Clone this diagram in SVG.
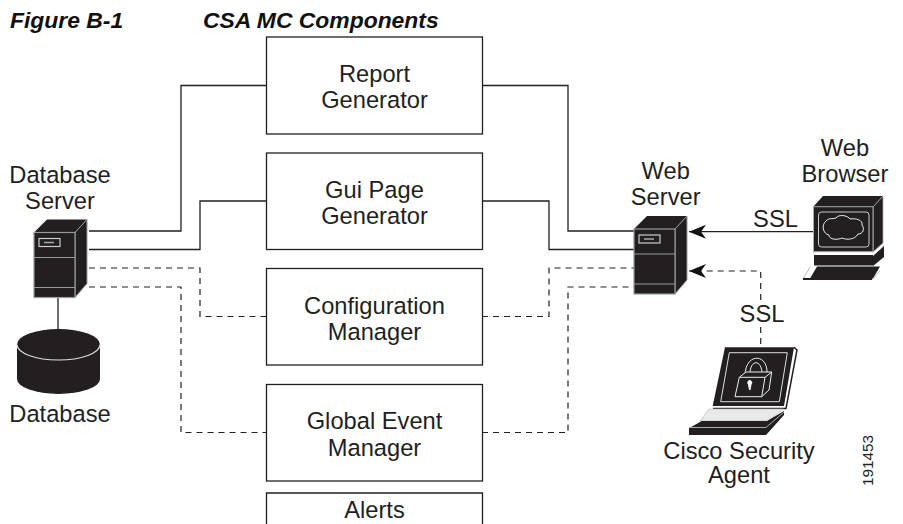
<svg xmlns="http://www.w3.org/2000/svg" width="903" height="524" viewBox="0 0 903 524">
<defs>
<marker id="arrow" markerUnits="userSpaceOnUse" markerWidth="20" markerHeight="18" refX="18" refY="9" orient="auto"><path d="M18 9L1 2L6 9L1 16Z" fill="#111"/></marker>
<g id="tower">
<path d="M0 13L13 0H53L41 13Z" fill="#231f20"/>
<path d="M41 13L53 0V64L41 78Z" fill="#231f20" stroke="#999" stroke-width="1"/>
<rect x="0" y="13" width="41" height="65" fill="#231f20" stroke="#999" stroke-width="1.2"/>
<path d="M0 38H41M0 68H41" stroke="#999" stroke-width="1.2" fill="none"/>
<rect x="5" y="19" width="21" height="8" fill="none" stroke="#ccc" stroke-width="1.2"/>
<path d="M10 23H20" stroke="#aaa" stroke-width="1.5"/>
</g>
</defs>
<style>
text{font-family:"Liberation Sans",Arial,sans-serif;font-size:23.7px;fill:#231f20;text-anchor:middle}
.title{font-weight:bold;font-style:italic;font-size:22.900px;text-anchor:start;fill:#111}
.box{fill:#fff;stroke:#231f20;stroke-width:1.3}
.c{fill:none;stroke:#231f20;stroke-width:1.3}
.d{fill:none;stroke:#231f20;stroke-width:1.2;stroke-dasharray:6 5}
</style>
<g id="title"><text class="title" x="10" y="27.500">Figure B-1</text><text class="title" x="203" y="27.500">CSA MC Components</text></g>
<g id="connectors">
<path class="c" d="M89 231H181V85.500H266M482 85.500H568V231H634"/>
<path class="c" d="M89 249.500H200V201H266M482 201H549V249.500H634"/>
<path class="d" d="M89 268H200V316.500H266M482 316.500H549V268H634"/>
<path class="d" d="M89 287H181V432.500H266M482 432.500H568V287H634"/>
<path class="c" d="M58 290V330"/>
<path class="c" d="M813 231.700H689" marker-end="url(#arrow)"/>
<path class="d" d="M760.700 300V271H689" marker-end="url(#arrow)"/>
<path class="d" d="M760.700 327V346"/>
</g>
<g id="report-generator"><rect class="box" x="266.500" y="37" width="216" height="97"/><text x="374.500" y="81.700">Report</text><text x="374.500" y="108.300">Generator</text></g>
<g id="gui-page-generator"><rect class="box" x="266.500" y="153" width="216" height="96.500"/><text x="374.500" y="197.700">Gui Page</text><text x="374.500" y="224.300">Generator</text></g>
<g id="configuration-manager"><rect class="box" x="266.500" y="268.500" width="216" height="96.500"/><text x="374.500" y="314">Configuration</text><text x="374.500" y="340">Manager</text></g>
<g id="global-event-manager"><rect class="box" x="266.500" y="384.500" width="216" height="96.500"/><text x="374.500" y="429">Global Event</text><text x="374.500" y="455.600">Manager</text></g>
<g id="alerts"><path class="box" d="M266.500 524V493H482.500V524"/><text x="374.500" y="518">Alerts</text></g>
<g id="database-server"><text x="60" y="183">Database</text><text x="60" y="209">Server</text><use href="#tower" x="34" y="219.500"/><path class="c" d="M58 288V297"/></g>
<g id="database"><path d="M17 344.500A41.500 15.500 0 0 1 100 344.500V379A41.500 15 0 0 1 17 379Z" fill="#231f20"/><path d="M17 344.500A41.500 15.500 0 0 0 100 344.500" fill="none" stroke="#ddd" stroke-width="1.2"/><text x="60" y="421.600">Database</text></g>
<g id="web-server"><text x="665.700" y="179">Web</text><text x="665.700" y="205">Server</text><use href="#tower" x="634" y="216"/></g>
<g id="web-browser"><text x="845" y="156">Web</text><text x="845" y="182">Browser</text>
<path d="M813 207L823 196H883L873 207Z" fill="#231f20"/>
<path d="M873 207L883 196V243L873 252Z" fill="#231f20" stroke="#aaa" stroke-width=".8"/>
<rect x="813.500" y="206.700" width="59.500" height="45" fill="#231f20" stroke="#aaa" stroke-width="1"/>
<rect x="818.500" y="212" width="50.500" height="35" rx="3" fill="none" stroke="#ccc" stroke-width="1"/>
<path d="M826 221C829 217 835 220 837 217C841 214 848 216 850 219C856 218 863 220 862 225C865 229 863 234 858 234C855 240 846 240 842 238C838 240 829 240 829 235C823 234 821 225 826 221Z" fill="#231f20" stroke="#eee" stroke-width="1"/>
<path d="M873 256L884 246V257L873 266Z" fill="#231f20"/><rect x="814" y="255" width="59" height="10.500" fill="#231f20"/>
<path d="M810 278.500L817 266.500H880L873 278.500Z" fill="#231f20"/><path d="M803 279L810 267M803 279H873L880 271" fill="none" stroke="#aaa" stroke-width=".8"/><path d="M803 279H872" stroke="#231f20" stroke-width="2"/></g>
<g id="cisco-security-agent"><text x="739" y="459">Cisco Security</text><text x="739" y="483">Agent</text>
<path d="M725 347.300H794L784 406H712.700Z" fill="#231f20"/><path d="M794 347.300L797 350L786 408.500H713" fill="none" stroke="#231f20" stroke-width="1.500"/>
<path d="M729.300 352.700H787.300L779.300 401.700H720.700Z" fill="none" stroke="#ddd" stroke-width="1"/>
<path d="M745 376C745 353 767 353 767 372M750 374C750 359 762 359 762 374" fill="none" stroke="#eee" stroke-width="1"/>
<path d="M739.300 377.300L746 372H771.700L769 390L761.700 396.700H735Z" fill="#231f20" stroke="#eee" stroke-width="1"/><path d="M739.300 377.300H765L761.700 396.700M765 377.300L771.700 372" fill="none" stroke="#eee" stroke-width="1"/>
<path d="M748 384.500a2.500 2.500 0 1 1 3.500 0l-1 5.500h-1.500Z" fill="#fff"/>
<path d="M709 409H783.500L768 421H700Z" fill="#e9e9e9" stroke="#bbb" stroke-width=".6"/>
<path d="M689 428.300L701.700 421H767L784 411V415L766 435H689Z" fill="#231f20"/><path d="M689 427.500H766L784 412" fill="none" stroke="#aaa" stroke-width="1"/></g>
<g id="label-ssl-1"><text x="775.500" y="226.700">SSL</text></g>
<g id="label-ssl-2"><text x="762" y="322">SSL</text></g>
<text x="873" y="486" transform="rotate(-90 873 486)" style="font-size:15.300px;text-anchor:start">191453</text>
</svg>
